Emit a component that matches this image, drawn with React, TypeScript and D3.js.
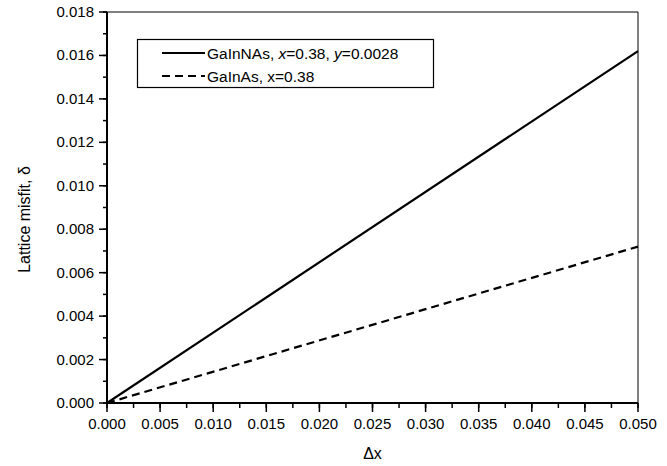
import React, { useEffect, useRef } from 'react';
import * as d3 from 'd3';

const deltaX = [0, 0.05];
const gainnas = [0, 0.0162];
const gainas = [0, 0.0072];
const xTicks = [0, 0.005, 0.01, 0.015, 0.02, 0.025, 0.03, 0.035, 0.04, 0.045, 0.05];
const yTicks = [0, 0.002, 0.004, 0.006, 0.008, 0.01, 0.012, 0.014, 0.016, 0.018];

const W = 667;
const H = 466;

const App = () => {
  const svgRef = useRef<SVGSVGElement>(null);

  useEffect(() => {
    const svg = d3.select(svgRef.current);
    svg.selectAll('*').remove();

    const margin = { top: 12, right: 29, bottom: 63, left: 107 };
    const font = 'Liberation Sans, Arial, sans-serif';

    const x = d3.scaleLinear().domain([0, 0.05]).range([margin.left, W - margin.right]);
    const y = d3.scaleLinear().domain([0, 0.018]).range([H - margin.bottom, margin.top]);

    // frame (top and right)
    svg.append('path')
      .attr('d', `M${x(0)},${y(0.018)}H${x(0.05)}V${y(0)}`)
      .attr('fill', 'none')
      .attr('stroke', '#000')
      .attr('stroke-width', 1);

    // minor ticks
    const xMinor = d3.range(0, 21).map((i) => i * 0.0025);
    const yMinor = d3.range(0, 19).map((i) => i * 0.001);

    const xAxis = svg.append('g').attr('transform', `translate(0,${y(0)})`);
    xAxis.selectAll('line.minor').data(xMinor).enter().append('line')
      .attr('x1', (d) => x(d)).attr('x2', (d) => x(d))
      .attr('y1', 0).attr('y2', 5)
      .attr('stroke', '#000').attr('stroke-width', 1.5);
    xAxis.selectAll('line.major').data(xTicks).enter().append('line')
      .attr('x1', (d) => x(d)).attr('x2', (d) => x(d))
      .attr('y1', 0).attr('y2', 9)
      .attr('stroke', '#000').attr('stroke-width', 1.5);
    xAxis.selectAll('text').data(xTicks).enter().append('text')
      .attr('x', (d) => x(d)).attr('y', 26)
      .attr('text-anchor', 'middle')
      .attr('font-family', font).attr('font-size', 15)
      .text((d) => d3.format('.3f')(d));
    xAxis.append('line')
      .attr('x1', x(0)).attr('x2', x(0.05))
      .attr('stroke', '#000').attr('stroke-width', 2);

    const yAxis = svg.append('g').attr('transform', `translate(${x(0)},0)`);
    yAxis.selectAll('line.minor').data(yMinor).enter().append('line')
      .attr('y1', (d) => y(d)).attr('y2', (d) => y(d))
      .attr('x1', 0).attr('x2', -4)
      .attr('stroke', '#000').attr('stroke-width', 1.5);
    yAxis.selectAll('line.major').data(yTicks).enter().append('line')
      .attr('y1', (d) => y(d)).attr('y2', (d) => y(d))
      .attr('x1', 0).attr('x2', -8)
      .attr('stroke', '#000').attr('stroke-width', 1.5);
    yAxis.selectAll('text').data(yTicks).enter().append('text')
      .attr('x', -13).attr('y', (d) => y(d) + 5)
      .attr('text-anchor', 'end')
      .attr('font-family', font).attr('font-size', 15)
      .text((d) => d3.format('.3f')(d));
    yAxis.append('line')
      .attr('y1', y(0)).attr('y2', y(0.018))
      .attr('stroke', '#000').attr('stroke-width', 2);

    // axis titles
    svg.append('text')
      .attr('x', (x(0) + x(0.05)) / 2).attr('y', 459)
      .attr('text-anchor', 'middle')
      .attr('font-family', font).attr('font-size', 16)
      .text('Δx');
    svg.append('text')
      .attr('transform', `translate(30,${(y(0) + y(0.018)) / 2 + 12}) rotate(-90)`)
      .attr('text-anchor', 'middle')
      .attr('font-family', font).attr('font-size', 16)
      .text('Lattice misfit, δ');

    // series
    const lineGen = d3.line<number>()
      .x((_, i) => x(deltaX[i]))
      .y((d) => y(d));

    svg.append('path').datum(gainnas)
      .attr('fill', 'none').attr('stroke', '#000').attr('stroke-width', 2.2)
      .attr('d', lineGen);
    svg.append('path').datum(gainas)
      .attr('fill', 'none').attr('stroke', '#000').attr('stroke-width', 2.2)
      .attr('stroke-dasharray', '8,5')
      .attr('d', lineGen);

    // legend
    const lg = svg.append('g');
    lg.append('rect')
      .attr('x', 137.5).attr('y', 39.5).attr('width', 296).attr('height', 48)
      .attr('fill', '#fff').attr('stroke', '#000').attr('stroke-width', 1.2);
    lg.append('line')
      .attr('x1', 162).attr('x2', 205).attr('y1', 53).attr('y2', 53)
      .attr('stroke', '#000').attr('stroke-width', 2.2);
    lg.append('line')
      .attr('x1', 162).attr('x2', 205).attr('y1', 76).attr('y2', 76)
      .attr('stroke', '#000').attr('stroke-width', 2.2)
      .attr('stroke-dasharray', '8,5');
    const t1 = lg.append('text')
      .attr('x', 207).attr('y', 58.5)
      .attr('font-family', font).attr('font-size', 15.5);
    t1.append('tspan').text('GaInNAs, ');
    t1.append('tspan').attr('font-style', 'italic').text('x');
    t1.append('tspan').text('=0.38, ');
    t1.append('tspan').attr('font-style', 'italic').text('y');
    t1.append('tspan').text('=0.0028');
    lg.append('text')
      .attr('x', 207).attr('y', 81.5)
      .attr('font-family', font).attr('font-size', 15.5)
      .text('GaInAs, x=0.38');
  }, []);

  return (
    <svg
      ref={svgRef}
      width={W}
      height={H}
      style={{ position: 'absolute', left: 0, top: 0, background: '#fff' }}
    />
  );
};

export default App;
